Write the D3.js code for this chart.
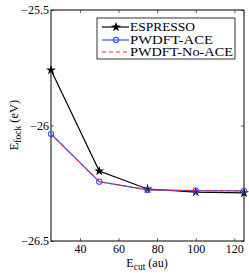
<!DOCTYPE html>
<html>
<head>
<meta charset="utf-8">
<script src="https://cdn.jsdelivr.net/npm/d3@7"></script>
<style>
  body { margin: 0; background: #fff; }
  text { font-family: "Liberation Serif", "DejaVu Serif", serif; }
</style>
</head>
<body>
<script>
// SVG size
const w = 249;
const h = 273;

// Data
const ecut = [25, 50, 75, 100, 125];
const espresso = [-25.76, -26.197, -26.275, -26.288, -26.292];
const pwdftAce = [-26.037, -26.243, -26.279, -26.282, -26.283];
const pwdftNoAce = [-26.037, -26.243, -26.279, -26.282, -26.283];
const xTicks = [40, 60, 80, 100, 120];
const yTicks = [-25.5, -26, -26.5];
const seriesNames = ["ESPRESSO", "PWDFT-ACE", "PWDFT-No-ACE"];

const mLeft = 51, mRight = 244, mTop = 10, mBottom = 241;

const xScale = d3.scaleLinear().domain([25, 125]).range([mLeft, mRight]);
const yScale = d3.scaleLinear().domain([-26.5, -25.5]).range([mBottom, mTop]);

const svg = d3.select("body").append("svg")
    .attr("width", w)
    .attr("height", h);

const fmt = d => (d < 0 ? "\u2212" : "") + Math.abs(d);

// Axes (ticks inward)
svg.append("g")
    .attr("transform", `translate(0, ${mBottom})`)
    .call(d3.axisBottom(xScale).tickValues(xTicks).tickSizeInner(-3).tickSizeOuter(0).tickPadding(3))
    .call(g => g.select(".domain").remove());
svg.append("g")
    .attr("transform", `translate(0, ${mTop})`)
    .call(d3.axisTop(xScale).tickValues(xTicks).tickSizeInner(-3).tickSizeOuter(0).tickFormat(""))
    .call(g => g.select(".domain").remove());
svg.append("g")
    .attr("transform", `translate(${mLeft}, 0)`)
    .call(d3.axisLeft(yScale).tickValues(yTicks).tickFormat(fmt).tickSizeInner(-3).tickSizeOuter(0).tickPadding(2))
    .call(g => g.select(".domain").remove());
svg.append("g")
    .attr("transform", `translate(${mRight}, 0)`)
    .call(d3.axisRight(yScale).tickValues(yTicks).tickFormat("").tickSizeInner(-3).tickSizeOuter(0))
    .call(g => g.select(".domain").remove());

svg.selectAll(".tick text")
    .attr("font-size", 12)
    .attr("fill", "#000")
    .style("font-family", "Liberation Serif, serif");
svg.selectAll(".tick line").attr("stroke", "#000").attr("stroke-width", 0.6);

// Frame
svg.append("rect")
    .attr("x", mLeft).attr("y", mTop)
    .attr("width", mRight - mLeft).attr("height", mBottom - mTop)
    .attr("fill", "none").attr("stroke", "#000").attr("stroke-width", 1);

const line = vals => d3.line()
    .x((d, i) => xScale(ecut[i]))
    .y(d => yScale(d))(vals);

// ESPRESSO
svg.append("path")
    .attr("d", line(espresso))
    .attr("fill", "none").attr("stroke", "#000").attr("stroke-width", 1.2);
const star = d3.symbol().type(d3.symbolStar).size(30);
svg.selectAll(".star").data(espresso).enter().append("path")
    .attr("transform", (d, i) => `translate(${xScale(ecut[i])}, ${yScale(d)})`)
    .attr("d", star).attr("fill", "#000");

// PWDFT-ACE
svg.append("path")
    .attr("d", line(pwdftAce))
    .attr("fill", "none").attr("stroke", "#3355ff").attr("stroke-width", 1.2);
svg.selectAll(".circ").data(pwdftAce).enter().append("circle")
    .attr("cx", (d, i) => xScale(ecut[i]))
    .attr("cy", d => yScale(d))
    .attr("r", 2.6)
    .attr("fill", "none").attr("stroke", "#3355ff").attr("stroke-width", 1.1);

// PWDFT-No-ACE
svg.append("path")
    .attr("d", line(pwdftNoAce))
    .attr("fill", "none").attr("stroke", "#ff2222").attr("stroke-width", 1.1)
    .attr("stroke-dasharray", "4,3");

// Legend
svg.append("rect")
    .attr("x", 97).attr("y", 18).attr("width", 138).attr("height", 41)
    .attr("fill", "#fff").attr("stroke", "#000").attr("stroke-width", 0.8);
const rows = [27, 40, 52];
// ESPRESSO entry
svg.append("line").attr("x1", 102).attr("x2", 129).attr("y1", rows[0]).attr("y2", rows[0])
    .attr("stroke", "#000").attr("stroke-width", 1.2);
svg.append("path").attr("transform", `translate(116, ${rows[0]})`).attr("d", star).attr("fill", "#000");
// ACE entry
svg.append("line").attr("x1", 102).attr("x2", 129).attr("y1", rows[1]).attr("y2", rows[1])
    .attr("stroke", "#3355ff").attr("stroke-width", 1.2);
svg.append("circle").attr("cx", 116).attr("cy", rows[1]).attr("r", 2.6)
    .attr("fill", "none").attr("stroke", "#3355ff").attr("stroke-width", 1.1);
// No-ACE entry
svg.append("line").attr("x1", 102).attr("x2", 129).attr("y1", rows[2]).attr("y2", rows[2])
    .attr("stroke", "#ff2222").attr("stroke-width", 1.1).attr("stroke-dasharray", "4,3");

svg.selectAll(".legtext").data(seriesNames).enter().append("text")
    .attr("x", 130).attr("y", (d, i) => rows[i] + 4.2)
    .attr("font-size", 11.5)
    .attr("textLength", (d, i) => [65, 83, 103][i])
    .attr("lengthAdjust", "spacingAndGlyphs")
    .text(d => d);

// X-axis label
const xl = svg.append("text")
    .attr("x", 147).attr("y", 267)
    .attr("text-anchor", "middle")
    .attr("font-size", 12);
xl.append("tspan").text("E");
xl.append("tspan").attr("baseline-shift", "-25%").attr("font-size", 9.5).text("cut");
xl.append("tspan").text(" (au)");

// Y-axis label
const yl = svg.append("text")
    .attr("transform", "rotate(-90)")
    .attr("x", -125).attr("y", 18)
    .attr("text-anchor", "middle")
    .attr("font-size", 12.5);
yl.append("tspan").text("E");
yl.append("tspan").attr("baseline-shift", "-25%").attr("font-size", 9.5).text("fock");
yl.append("tspan").text(" (eV)");
</script>
</body>
</html>
